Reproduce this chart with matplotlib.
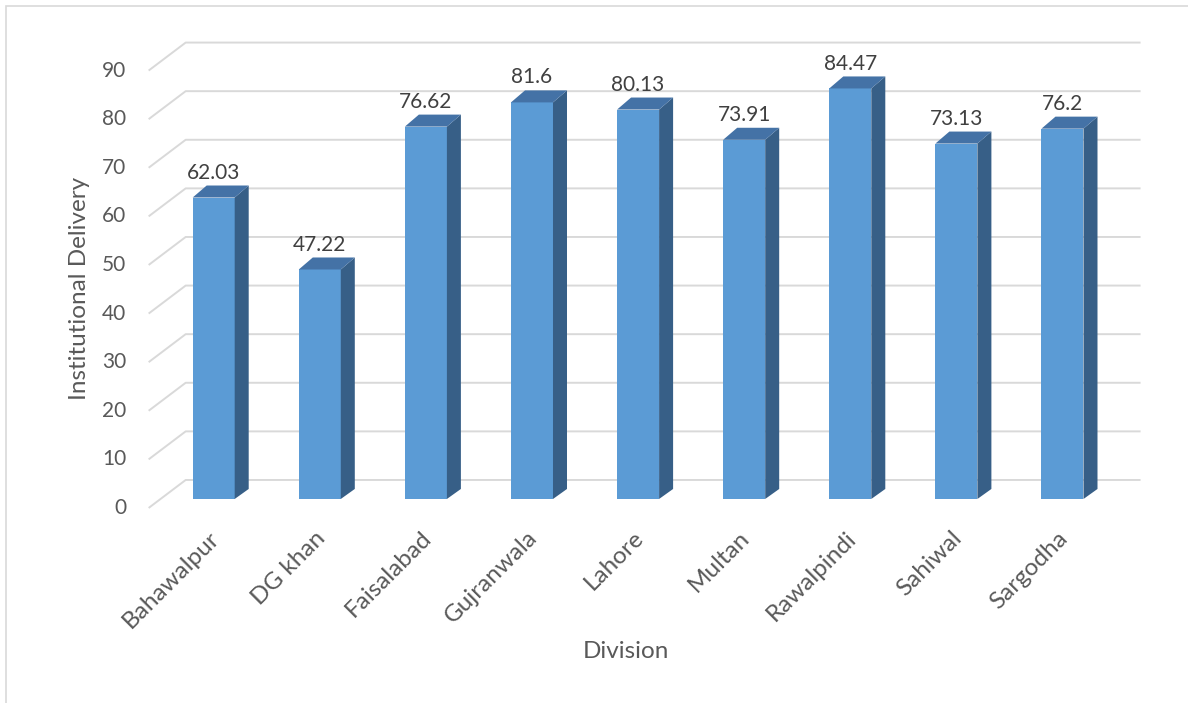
import matplotlib
matplotlib.use("Agg")
import matplotlib.pyplot as plt
from matplotlib.patches import Polygon, Rectangle

plt.rcParams['font.family'] = ['Lato', 'DejaVu Sans']

divisions = ['Bahawalpur', 'DG khan', 'Faisalabad', 'Gujranwala', 'Lahore',
             'Multan', 'Rawalpindi', 'Sahiwal', 'Sargodha']
delivery = [62.03, 47.22, 76.62, 81.6, 80.13, 73.91, 84.47, 73.13, 76.2]
y_ticks = [0, 10, 20, 30, 40, 50, 60, 70, 80, 90]

# pseudo-3d geometry (data units: category slots / percent)
half_w = 0.198          # half width of the bar front face
depth_x = 0.132         # bar depth, horizontal shift
depth_y_bot = 2.06      # bar depth, vertical shift at the floor
depth_y_top = 2.47      # bar depth, vertical shift at the top
front = (-0.113, -1.85)  # wall front edge relative to bar fronts
back = (0.236, 3.91)     # back wall relative to bar fronts

face_col = '#5B9BD5'
top_col = '#4472A6'
side_col = '#375F87'
grid_col = '#D9D9D9'
text_col = '#595959'
label_col = '#404040'

fig = plt.figure(figsize=(11.88, 7.03), dpi=100)
ax = fig.add_axes([0, 0, 1, 1])
ax.set_xlim(-2.014, 9.183)
ax.set_ylim(-41.98, 102.67)
ax.axis('off')

# outer chart border
fig.patches.append(Rectangle((6 / 1188, -0.01), 1.02, 1 - 6 / 703 + 0.01,
                             transform=fig.transFigure, fill=False,
                             edgecolor=grid_col, lw=1.2))

# gridlines: diagonal on the side wall, then flat along the back wall
left, right = -0.5, len(divisions) - 0.5
for v in y_ticks:
    xs = [left + front[0], left + back[0], right + back[0]]
    ys = [v + front[1], v + back[1], v + back[1]]
    ax.plot(xs, ys, color=grid_col, lw=1.4, zorder=1, solid_capstyle='butt')
    ax.text(left + front[0] - 0.21, v + front[1], str(v), ha='right', va='center',
            fontsize=15, color=text_col)

for i, (name, val) in enumerate(zip(divisions, delivery)):
    x0, x1 = i - half_w, i + half_w
    ax.add_patch(Rectangle((x0, 0), x1 - x0, val, facecolor=face_col,
                           edgecolor='none', zorder=3))
    ax.add_patch(Polygon([(x1, 0), (x1, val), (x1 + depth_x, val + depth_y_top),
                          (x1 + depth_x, depth_y_bot)],
                         facecolor=side_col, edgecolor='none', zorder=3))
    ax.add_patch(Polygon([(x0, val), (x1, val), (x1 + depth_x, val + depth_y_top),
                          (x0 + depth_x, val + depth_y_top)],
                         facecolor=top_col, edgecolor='none', zorder=3))
    ax.annotate(f'{val:g}', (i, val + depth_y_top), xytext=(0, 5),
                textcoords='offset points', ha='center', va='baseline',
                fontsize=15, color=label_col)
    ax.text(i - 0.05, -5.8, name, rotation=45, rotation_mode='anchor',
            ha='right', va='top', fontsize=17.5, color=text_col)

fig.text(626 / 1188, 1 - 652 / 703, 'Division', ha='center', va='center',
         fontsize=17.5, color=text_col)
fig.text(80 / 1188, 1 - 288 / 703, 'Institutional Delivery', ha='center',
         va='center', rotation=90, fontsize=17.5, color=text_col)

fig.savefig('out.png', dpi=100)
